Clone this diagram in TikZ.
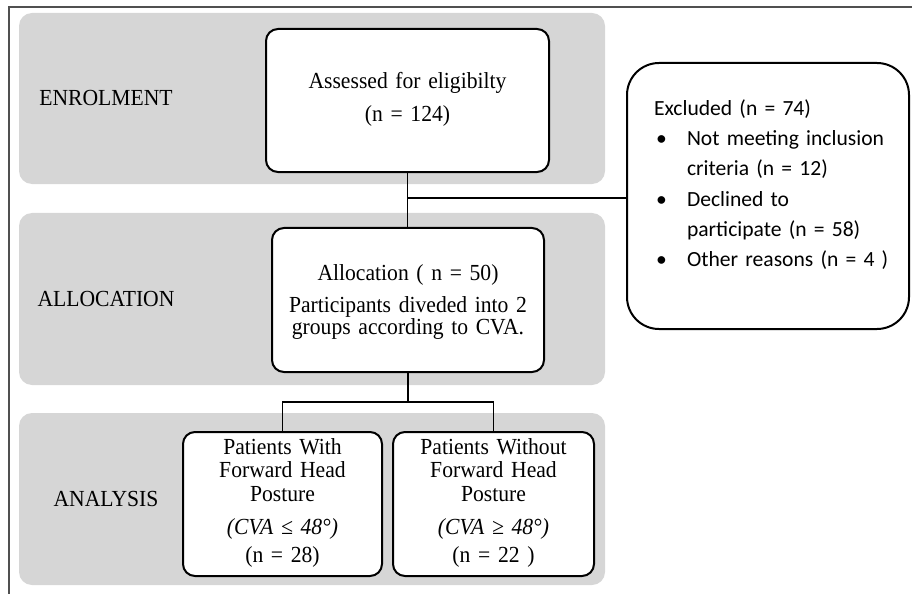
\documentclass[tikz,border=0pt]{standalone}
\usepackage{fontspec}
\setmainfont{Liberation Serif}[FakeStretch=0.94]
\newfontfamily\exclfont{Carlito}
\definecolor{bandgray}{RGB}{214,214,214}
\definecolor{framegray}{RGB}{80,80,80}
\tikzset{
  band/.style={fill=bandgray, draw=none, rounded corners=13bp, inner sep=0pt, outer sep=0pt, anchor=north west},
  flowbox/.style={draw=black, line width=2bp, fill=white, rounded corners=12bp, inner sep=0pt, anchor=north west, align=center},
  stagelabel/.style={anchor=base, inner sep=0pt, font=\fontsize{23bp}{24bp}\selectfont},
  link/.style={line width=1.5bp, draw=black},
  frameline/.style={line width=1.3bp, draw=framegray}
}
\begin{document}
\begin{tikzpicture}[x=1bp,y=-1bp]
\useasboundingbox (0,0) rectangle (912,594);
% outer frame (top and left only)
\coordinate (ftr) at (912,7);
\coordinate (ftl) at (9,7);
\coordinate (fbl) at (9,594);
\draw[frameline] (ftr) -- (ftl) -- (fbl);
% stage bands
\node[band, minimum width=586bp, minimum height=171bp] (enrolband) at (19,13) {};
\node[band, minimum width=586bp, minimum height=172bp] (allocband) at (19,213) {};
\node[band, minimum width=586bp, minimum height=172bp] (anaband) at (19,413) {};
% stage labels
\node[stagelabel] (lenrol) at (106,106) {ENROLMENT};
\node[stagelabel] (lalloc) at (106,306) {ALLOCATION};
\node[stagelabel] (lana) at (106,506.5) {ANALYSIS};
% boxes
\node[flowbox, text width=283bp, text height=60bp, text depth=83bp,
      font=\fontsize{23bp}{33bp}\selectfont] (assess) at (265,28)
  {Assessed for eligibilty\\(n = 124)};
\node[flowbox, text width=272bp, text height=52bp, text depth=92bp,
      font=\fontsize{23bp}{22bp}\selectfont] (alloc) at (271,227)
  {Allocation ( n = 50)\\[10bp]Participants diveded into 2\\groups according to CVA.};
\node[flowbox, text width=199bp, text height=22bp, text depth=122bp,
      font=\fontsize{23bp}{23.7bp}\selectfont] (pwith) at (182,431)
  {Patients With\\Forward Head\\Posture\\[9bp]\textit{(CVA ≤ 48°)}\\[4.5bp](n = 28)};
\node[flowbox, text width=201bp, text height=22bp, text depth=122bp,
      font=\fontsize{23bp}{23.7bp}\selectfont] (pwithout) at (392,431)
  {Patients Without\\Forward Head\\Posture\\[9bp]\textit{(CVA ≥ 48°)}\\[4.5bp](n = 22 )};
\node[flowbox, align=left, rounded corners=32bp, text width=282bp, text height=53bp, text depth=213bp,
      font=\exclfont\fontsize{21.6bp}{30bp}\selectfont] (excl) at (626,62)
  {\hspace*{27bp}Excluded (n = 74)\\
   \hspace*{27bp}\makebox[33bp][l]{\hspace{2bp}•}Not meeting inclusion\\
   \hspace*{60bp}criteria (n = 12)\\
   \hspace*{27bp}\makebox[33bp][l]{\hspace{2bp}•}Declined to\\
   \hspace*{60bp}participate (n = 58)\\
   \hspace*{27bp}\makebox[33bp][l]{\hspace{2bp}•}Other reasons (n = 4 )};
% connectors
\draw[link] (assess.south) -- (assess.south |- alloc.north);
\path (assess.south) ++(0,25) coordinate (j1);
\draw[link] (j1) -- (j1 -| excl.west);
\path (alloc.south) ++(0,29) coordinate (j2);
\draw[link] (alloc.south) -- (j2);
\draw[link] (pwith.north) |- (j2) -| (pwithout.north);
\end{tikzpicture}
\end{document}
